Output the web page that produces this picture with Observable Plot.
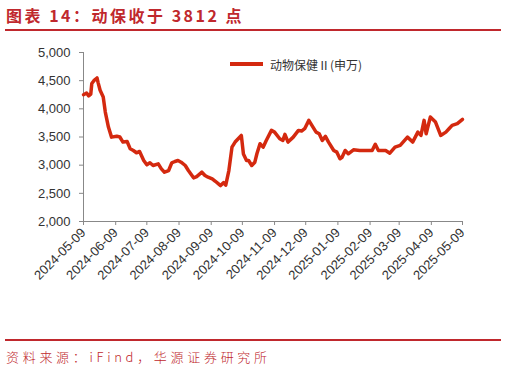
<!DOCTYPE html>
<html><head><meta charset="utf-8">
<script src="https://cdn.jsdelivr.net/npm/d3@7"></script>
<script src="https://cdn.jsdelivr.net/npm/@observablehq/plot@0.6"></script>
<style>
body{margin:0;background:#fff;}
#wrap{position:relative;width:506px;height:373px;overflow:hidden;background:#fff;}
#title{position:absolute;left:6px;top:5px;font-family:"Noto Sans CJK SC";font-weight:700;font-size:16px;line-height:20px;color:#c0282d;letter-spacing:2.5px;white-space:nowrap;}
.rule{position:absolute;left:5px;width:496px;height:2px;background:#c0282d;}
#chart{position:absolute;left:0;top:36px;}
#legend{position:absolute;left:230px;top:56px;height:16px;display:flex;align-items:center;white-space:nowrap;font-family:"Noto Sans CJK SC";font-size:12px;color:#333;}
#legend .sw{width:33px;height:4px;background:#d4290f;margin-right:7px;}
#source{position:absolute;left:6px;top:348px;font-family:"Noto Sans CJK SC";font-weight:300;font-size:13px;line-height:18px;color:#c0282d;letter-spacing:3.7px;white-space:nowrap;}
</style></head>
<body>
<div id="wrap">
  <div id="title">图表 14：动保收于 3812 点</div>
  <div class="rule" style="top:29px"></div>
  <div id="chart"></div>
  <div id="legend"><span class="sw"></span><span>动物保健Ⅱ(申万)</span></div>
  <div class="rule" style="top:339px"></div>
  <div id="source">资料来源：iFind，华源证券研究所</div>
</div>
<script>
const seriesName = "动物保健Ⅱ(申万)";
const dates = [
 "2024-05-09","2024-05-12","2024-05-14","2024-05-16","2024-05-17","2024-05-19","2024-05-22","2024-05-23","2024-05-25","2024-05-28",
 "2024-05-30","2024-06-02","2024-06-05","2024-06-10","2024-06-13","2024-06-16","2024-06-20","2024-06-23","2024-06-26","2024-06-29",
 "2024-07-02","2024-07-06","2024-07-09","2024-07-12","2024-07-15","2024-07-20","2024-07-23","2024-07-26","2024-07-30","2024-08-02",
 "2024-08-05","2024-08-08","2024-08-11","2024-08-15","2024-08-18","2024-08-23","2024-08-26","2024-08-31","2024-09-03","2024-09-06",
 "2024-09-10","2024-09-13","2024-09-16","2024-09-18","2024-09-21","2024-09-23","2024-09-26","2024-09-29","2024-10-02","2024-10-05",
 "2024-10-08","2024-10-10","2024-10-13","2024-10-15","2024-10-18","2024-10-21","2024-10-23","2024-10-26","2024-10-29","2024-11-01",
 "2024-11-06","2024-11-09","2024-11-14","2024-11-17","2024-11-19","2024-11-22","2024-11-27","2024-12-02","2024-12-05","2024-12-08",
 "2024-12-12","2024-12-16","2024-12-19","2024-12-22","2024-12-25","2024-12-28","2024-12-31","2025-01-05","2025-01-08","2025-01-11",
 "2025-01-13","2025-01-16","2025-01-19","2025-01-24","2025-01-30","2025-02-11","2025-02-14","2025-02-17","2025-02-24","2025-02-28",
 "2025-03-05","2025-03-10","2025-03-17","2025-03-22","2025-03-27","2025-03-30","2025-04-02","2025-04-04","2025-04-08","2025-04-13",
 "2025-04-18","2025-04-23","2025-04-26","2025-04-29","2025-05-04","2025-05-09"
];
const values = [
 4250,4280,4230,4260,4450,4500,4548,4470,4330,4210,
 3943,3676,3498,3515,3500,3410,3420,3290,3260,3220,
 3243,3083,3006,3042,2994,3024,2935,2875,2905,3042,
 3065,3083,3053,2994,2905,2775,2798,2875,2816,2786,
 2757,2714,2668,2638,2690,2645,2905,3320,3410,3469,
 3528,3200,3083,3083,2994,3053,3202,3380,3320,3439,
 3617,3587,3469,3439,3546,3410,3498,3617,3605,3647,
 3795,3676,3587,3558,3439,3510,3410,3261,3231,3113,
 3140,3261,3202,3272,3261,3261,3370,3261,3261,3213,
 3320,3350,3498,3410,3587,3528,3795,3558,3854,3765,
 3528,3587,3646,3706,3736,3812
];
const tickLabels = ["2024-05-09","2024-06-09","2024-07-09","2024-08-09","2024-09-09","2024-10-09","2024-11-09","2024-12-09","2025-01-09","2025-02-09","2025-03-09","2025-04-09","2025-05-09"];
const yTicks = [2000,2500,3000,3500,4000,4500,5000];

const data = dates.map((d,i)=>({date:new Date(d), value:values[i], series:seriesName}));
const tickDates = tickLabels.map(d=>new Date(d));
const fmtDate = d3.utcFormat("%Y-%m-%d");

const chart = Plot.plot({
  width:506, height:265,
  marginLeft:83, marginRight:44, marginTop:16, marginBottom:80,
  style:{fontFamily:'"Liberation Sans", Arial, sans-serif', fontSize:"13px", color:"#333", background:"#fff", overflow:"visible"},
  x:{type:"utc", domain:[tickDates[0], tickDates[tickDates.length-1]]},
  y:{domain:[yTicks[0], yTicks[yTicks.length-1]]},
  marks:[
    Plot.axisY({ticks:yTicks, tickFormat:d3.format(","), tickSize:4, tickPadding:9, stroke:"#888", color:"#333", label:null}),
    Plot.axisX({ticks:tickDates, tickFormat:fmtDate, tickRotate:-45, tickSize:4, tickPadding:5, stroke:"#888", color:"#333", label:null}),
    Plot.ruleX([tickDates[0]], {stroke:"#888"}),
    Plot.ruleY([yTicks[0]], {stroke:"#888"}),
    Plot.lineY(data, {x:"date", y:"value", stroke:"#d4290f", strokeWidth:3.5, strokeLinejoin:"round"})
  ]
});
document.getElementById("chart").appendChild(chart);
</script>
</body></html>
